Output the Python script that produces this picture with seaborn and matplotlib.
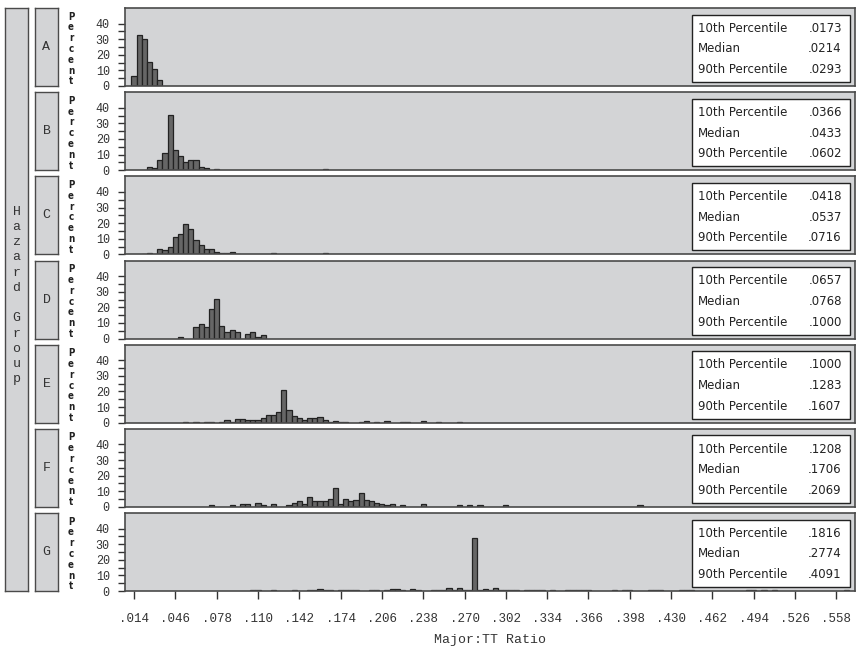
import numpy as np
import pandas as pd
import matplotlib
matplotlib.use('Agg')
import matplotlib.pyplot as plt
import seaborn as sns
from matplotlib.patches import Rectangle
from matplotlib.ticker import FixedLocator

# --- DATI (percentuali per classe, larghezza classe 0.004) ---
gruppi = ['A', 'B', 'C', 'D', 'E', 'F', 'G']

a_mid = [.014, .018, .022, .026, .030, .034]
a_pct = [6.3, 32.8, 30.2, 15.1, 10.6, 4.1]

b_mid = [.026, .030, .034, .038, .042, .046, .050, .054, .058, .062, .066, .070, .078, .162]
b_pct = [2.1, 1.5, 6.8, 11.0, 35.5, 13.2, 9.4, 5.3, 6.4, 6.8, 2.1, 1.1, 0.6, 0.6]

c_mid = [.022, .026, .030, .034, .038, .042, .046, .050, .054, .058, .062, .066, .070, .074,
         .078, .082, .086, .090, .094, .122, .162]
c_pct = [0.4, 0.6, 0.3, 3.6, 3.0, 4.5, 11.1, 13.3, 19.7, 16.1, 9.4, 5.8, 3.2, 3.6,
         1.5, 1.1, 0.6, 1.7, 0.4, 0.6, 0.6]

d_mid = [.050, .062, .066, .070, .074, .078, .082, .086, .090, .094, .102, .106, .110, .114]
d_pct = [1.1, 7.3, 9.2, 7.3, 19.2, 25.2, 8.1, 4.3, 5.3, 4.1, 3.0, 4.1, 1.1, 2.1]

e_mid = [.054, .062, .070, .074, .082, .086, .090, .094, .098, .102, .106, .110, .114, .118,
         .122, .126, .130, .134, .138, .142, .146, .150, .154, .158, .162, .166, .170, .174,
         .178, .190, .194, .202, .210, .222, .226, .238, .250, .266]
e_pct = [0.4, 0.4, 0.6, 0.6, 0.2, 1.5, 0.2, 2.6, 2.2, 1.5, 1.9, 1.9, 3.0, 5.0,
         5.0, 7.1, 21.2, 8.4, 4.5, 3.0, 1.9, 3.0, 3.0, 3.9, 1.5, 0.4, 1.1, 0.4,
         0.6, 0.4, 1.1, 0.4, 0.9, 0.4, 0.4, 0.9, 0.4, 0.4]

f_mid = [.074, .090, .098, .102, .110, .114, .122, .134, .138, .142, .146, .150, .154, .158,
         .162, .166, .170, .174, .178, .182, .186, .190, .194, .198, .202, .206, .210, .214,
         .222, .238, .266, .274, .282, .302, .406]
f_pct = [0.9, 0.9, 1.9, 1.9, 2.6, 0.9, 1.9, 0.9, 2.6, 3.6, 1.9, 6.4, 3.6, 3.6,
         3.6, 5.3, 12.4, 1.9, 5.3, 3.6, 4.5, 9.0, 4.5, 3.6, 2.6, 1.9, 0.9, 1.9,
         0.9, 1.9, 0.9, 0.9, 0.9, 0.9, 0.9]

g_mid = [.106, .110, .122, .138, .150, .154, .158, .162, .166, .174,
         .178, .182, .186, .198, .202, .210, .214, .218, .222, .230,
         .234, .246, .250, .254, .258, .262, .266, .270, .274, .278,
         .282, .286, .290, .294, .298, .302, .306, .310, .318, .322,
         .326, .330, .338, .350, .354, .358, .362, .366, .386, .394,
         .398, .414, .418, .422, .438, .442, .446, .490, .494, .502,
         .510, .566]
g_pct = [0.4, 0.4, 0.4, 0.4, 0.4, 0.4, 1.5, 0.9, 0.4, 0.4,
         0.9, 0.4, 0.9, 0.9, 0.4, 0.4, 1.3, 1.3, 0.4, 1.3,
         0.4, 0.4, 0.4, 0.6, 2.2, 0.6, 2.2, 0.6, 0.4, 34.1,
         0.4, 1.3, 0.6, 1.7, 0.9, 0.4, 0.4, 0.4, 0.9, 0.4,
         0.4, 0.4, 0.6, 0.4, 0.4, 0.4, 0.4, 0.4, 0.4, 0.9,
         0.4, 0.9, 0.4, 0.4, 0.4, 0.4, 0.4, 0.9, 0.9, 0.4,
         0.4, 0.4]

p10 = ['.0173', '.0366', '.0418', '.0657', '.1000', '.1208', '.1816']
mediana = ['.0214', '.0433', '.0537', '.0768', '.1283', '.1706', '.2774']
p90 = ['.0293', '.0602', '.0716', '.1000', '.1607', '.2069', '.4091']

xtick_val = [.014, .046, .078, .110, .142, .174, .206, .238, .270, .302, .334, .366,
             .398, .430, .462, .494, .526, .558]
xtick_lab = ['.014', '.046', '.078', '.110', '.142', '.174', '.206', '.238', '.270', '.302',
             '.334', '.366', '.398', '.430', '.462', '.494', '.526', '.558']

dati = [(a_mid, a_pct), (b_mid, b_pct), (c_mid, c_pct), (d_mid, d_pct),
        (e_mid, e_pct), (f_mid, f_pct), (g_mid, g_pct)]

# --- STILE ---
plt.rcParams['font.family'] = ['Liberation Mono', 'DejaVu Sans Mono']
sfondo = '#d3d4d6'
bordo = '#4a4a4a'
W, H = 856, 651


def pos(x0, y0, x1, y1):
    """Box in pixel (y dall'alto) -> coordinate figura."""
    return [x0 / W, 1 - y1 / H, (x1 - x0) / W, (y1 - y0) / H]


def striscia(x0, y0, x1, y1, testo, size=9.5, ls=1.2, yc=0.5):
    s = fig.add_axes(pos(x0, y0, x1, y1))
    s.set_facecolor(sfondo)
    s.set_xticks([])
    s.set_yticks([])
    for sp in s.spines.values():
        sp.set_color(bordo)
        sp.set_linewidth(1.0)
    s.text(0.5, yc, testo, ha='center', va='center', fontsize=size,
           color='#333333', linespacing=ls, transform=s.transAxes)
    return s


fig = plt.figure(figsize=(W / 100, H / 100), dpi=100)

# bordi delle classi come lista (un array numpy manda in errore seaborn coi pesi)
edges = [round(0.012 + 0.004 * k, 3) for k in range(141)]
top0, passo, alt = 8, 84.17, 78

# striscia esterna
striscia(5, 8, 28, 591, '\n'.join('Hazard Group'), size=9.5, ls=1.36, yc=0.507)

ax0 = None
for i, g in enumerate(gruppi):
    top = top0 + i * passo
    ax = fig.add_axes(pos(125, top, 855, top + alt), sharex=ax0)
    if ax0 is None:
        ax0 = ax
    mid, pct = dati[i]
    df = pd.DataFrame({'mid': mid, 'pct': pct})
    sns.histplot(data=df, x='mid', weights='pct', bins=edges, ax=ax, color='#666666',
                 edgecolor='#222222', linewidth=0.9, alpha=1)
    # niente contorno per le classi vuote
    for p in ax.patches:
        if p.get_height() == 0:
            p.set_visible(False)
    ax.set_facecolor(sfondo)
    for sp in ax.spines.values():
        sp.set_color(bordo)
        sp.set_linewidth(1.2)
    ax.set_ylim(0, 50)
    ax.set_xlim(0.007, 0.5725)
    ax.set_yticks([0, 10, 20, 30, 40])
    ax.yaxis.set_minor_locator(FixedLocator([5, 15, 25, 35]))
    ax.tick_params(axis='y', which='both', length=5, width=1, color='#333333',
                   pad=6, labelsize=8.5, labelcolor='#333333')
    ax.set_ylabel('')
    ax.set_xlabel('')
    if i < len(gruppi) - 1:
        ax.tick_params(axis='x', bottom=False, labelbottom=False)
    else:
        ax.set_xticks(xtick_val)
        ax.set_xticklabels(xtick_lab)
        ax.tick_params(axis='x', length=6, width=1, color='#333333', pad=10,
                       labelsize=9, labelcolor='#333333')

    # riquadro percentili
    ax.add_patch(Rectangle((0.777, 0.05), 0.216, 0.865, transform=ax.transAxes,
                           facecolor='white', edgecolor='#222222', lw=1, zorder=5))
    for y, lab, v in [(0.74, '10th Percentile', p10[i]), (0.475, 'Median', mediana[i]),
                      (0.21, '90th Percentile', p90[i])]:
        ax.text(0.785, y, lab, transform=ax.transAxes, ha='left', va='center',
                fontsize=8.5, family='DejaVu Sans', color='#222222', zorder=6)
        ax.text(0.982, y, v, transform=ax.transAxes, ha='right', va='center',
                fontsize=8.5, family='DejaVu Sans', color='#222222', zorder=6)

    # striscia interna e etichetta Percent
    striscia(35, top, 58, top + alt, g)
    fig.text(71 / W, 1 - (top + 41) / H, '\n'.join('Percent'), ha='center',
             va='center', fontsize=7, family='DejaVu Sans', weight='bold',
             stretch='condensed', linespacing=1.1, color='#222222')

fig.text(490 / W, 1 - 640 / H, 'Major:TT Ratio', ha='center', va='center',
         fontsize=9.5, color='#333333')

fig.savefig('out.png', dpi=100)
